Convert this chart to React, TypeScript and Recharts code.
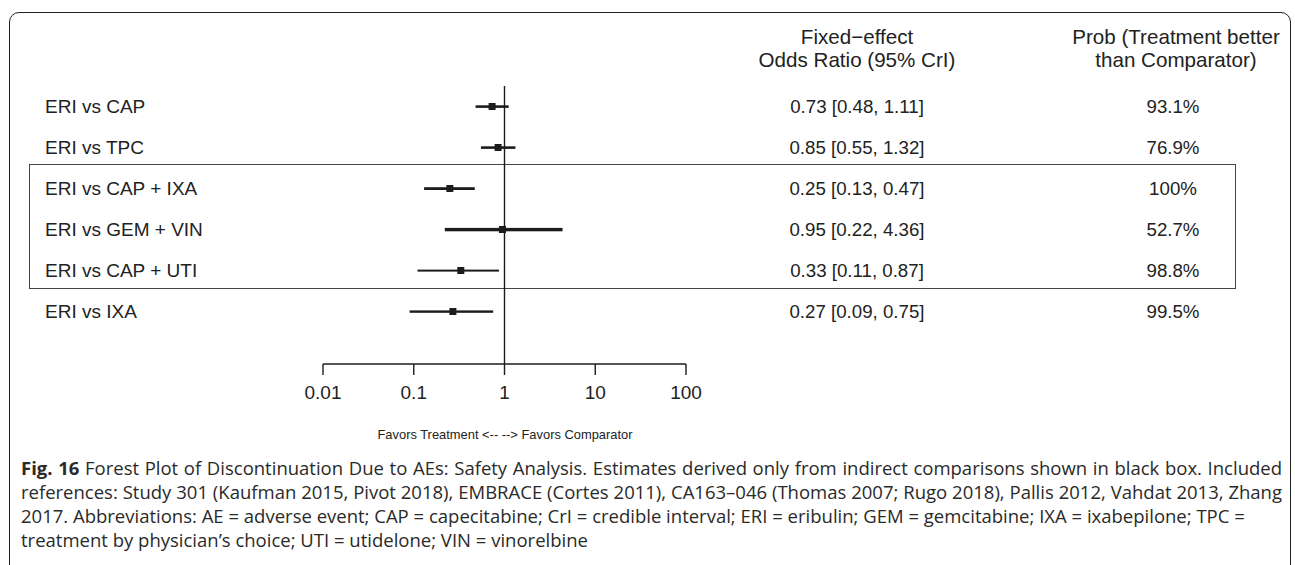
import { Bar, ComposedChart, ReferenceLine, Scatter, XAxis, YAxis } from "recharts";

// forest plot values
const comparisons = [
	"ERI vs CAP",
	"ERI vs TPC",
	"ERI vs CAP + IXA",
	"ERI vs GEM + VIN",
	"ERI vs CAP + UTI",
	"ERI vs IXA",
];
const oddsRatios = [0.73, 0.85, 0.25, 0.95, 0.33, 0.27];
const lowerCrI = [0.48, 0.55, 0.13, 0.22, 0.11, 0.09];
const upperCrI = [1.11, 1.32, 0.47, 4.36, 0.87, 0.75];
const probBetter = ["93.1%", "76.9%", "100%", "52.7%", "98.8%", "99.5%"];
const xTicks = [0.01, 0.1, 1, 10, 100];

const captionLines = [
	"Forest Plot of Discontinuation Due to AEs: Safety Analysis. Estimates derived only from indirect comparisons shown in black box. Included",
	"references: Study 301 (Kaufman 2015, Pivot 2018), EMBRACE (Cortes 2011), CA163\u2013046 (Thomas 2007; Rugo 2018), Pallis 2012, Vahdat 2013, Zhang",
	"2017. Abbreviations: AE = adverse event; CAP = capecitabine; CrI = credible interval; ERI = eribulin; GEM = gemcitabine; IXA = ixabepilone; TPC =",
	"treatment by physician\u2019s choice; UTI = utidelone; VIN = vinorelbine",
];

const rows = comparisons.map((label, i) => ({
	label,
	or: oddsRatios[i],
	ci: [lowerCrI[i], upperCrI[i]],
}));

const fmt = (v: number) => v.toFixed(2);

const INK = "#1c1c1c";
const TEXT = "#222";
const FONT = "Arial, 'Liberation Sans', sans-serif";
const whiskerWidths = [2.6, 2.6, 2.8, 3.4, 2, 2.4];

function Whisker(props: any) {
	const { x, y, width, height, index } = props;
	const w = whiskerWidths[index] ?? 2.5;
	return (
		<rect x={x} y={y + height / 2 - w / 2} width={width} height={w} fill={INK} />
	);
}

function Marker(props: any) {
	const { cx, cy } = props;
	return <rect x={cx - 3.5} y={cy - 3.5} width={7} height={7} fill={INK} />;
}

function RowTick(props: any) {
	const { y, payload } = props;
	const i = comparisons.indexOf(payload.value);
	return (
		<g fontFamily={FONT} fill={TEXT}>
			<text x={45} y={y} dy="0.35em" textAnchor="start" fontSize={19}>
				{payload.value}
			</text>
			<text x={857} y={y} dy="0.35em" textAnchor="middle" fontSize={18.7}>
				{`${fmt(oddsRatios[i])} [${fmt(lowerCrI[i])}, ${fmt(upperCrI[i])}]`}
			</text>
			<text x={1173} y={y} dy="0.35em" textAnchor="middle" fontSize={18.7}>
				{probBetter[i]}
			</text>
		</g>
	);
}

const headerStyle = {
	position: "absolute" as const,
	top: 25,
	width: 260,
	textAlign: "center" as const,
	fontFamily: FONT,
	fontSize: 20.6,
	lineHeight: "23px",
	color: TEXT,
	whiteSpace: "nowrap" as const,
};

export default function App() {
	return (
		<div
			style={{
				position: "fixed",
				left: 0,
				top: 0,
				width: 1295,
				height: 565,
				overflow: "hidden",
				background: "#fff",
			}}
		>
			{/* outer frame, open at the bottom */}
			<div
				style={{
					position: "absolute",
					left: 9,
					top: 12,
					width: 1280,
					height: 600,
					border: "1.5px solid #222",
					borderRadius: 10,
				}}
			/>
			{/* indirect-only comparisons */}
			<div
				style={{
					position: "absolute",
					left: 29,
					top: 164,
					width: 1205,
					height: 123,
					border: "1.5px solid #444",
				}}
			/>

			<div style={{ ...headerStyle, left: 857 - 130 }}>
				Fixed{"\u2212"}effect
				<br />
				Odds Ratio (95% CrI)
			</div>
			<div style={{ ...headerStyle, left: 1176 - 130 }}>
				Prob (Treatment better
				<br />
				than Comparator)
			</div>

			<div style={{ position: "absolute", left: 0, top: 0 }}>
				<ComposedChart
					layout="vertical"
					width={1295}
					height={420}
					data={rows}
					margin={{ top: 86, right: 609, bottom: 0, left: 0 }}
				>
					<XAxis
						type="number"
						dataKey="or"
						scale="log"
						domain={[0.01, 100]}
						allowDataOverflow
						ticks={xTicks}
						interval={0}
						tickFormatter={(v) => String(v)}
						height={56}
						tickSize={11}
						tickMargin={11}
						axisLine={{ stroke: INK, strokeWidth: 1.4 }}
						tickLine={{ stroke: INK, strokeWidth: 1.4 }}
						tick={{ fill: TEXT, fontSize: 19, fontFamily: FONT }}
					/>
					<YAxis
						type="category"
						dataKey="label"
						width={323}
						axisLine={false}
						tickLine={false}
						interval={0}
						padding={{ top: 0, bottom: 32 }}
						tick={<RowTick />}
					/>
					<ReferenceLine x={1} stroke={INK} strokeWidth={1.4} />
					<Bar
						dataKey="ci"
						shape={<Whisker />}
						isAnimationActive={false}
					/>
					<Scatter
						dataKey="or"
						shape={<Marker />}
						isAnimationActive={false}
					/>
				</ComposedChart>
			</div>

			<div
				style={{
					position: "absolute",
					left: 355,
					top: 427,
					width: 300,
					textAlign: "center",
					fontFamily: FONT,
					fontSize: 12.9,
					color: TEXT,
					whiteSpace: "nowrap",
				}}
			>
				Favors Treatment {"<-- -->"} Favors Comparator
			</div>

			<div
				style={{
					position: "absolute",
					left: 21,
					top: 456,
					width: 1261,
					fontFamily: "'Open Sans', sans-serif",
					fontSize: 18.5,
					lineHeight: "24px",
					color: "#2a2a2a",
					whiteSpace: "nowrap",
				}}
			>
				{captionLines.map((line, i) => (
					<div
						key={i}
						style={i < 2 ? { textAlign: "justify", textAlignLast: "justify" } : undefined}
					>
						{i === 0 && <b>Fig. 16 </b>}
						{line}
					</div>
				))}
			</div>
		</div>
	);
}
